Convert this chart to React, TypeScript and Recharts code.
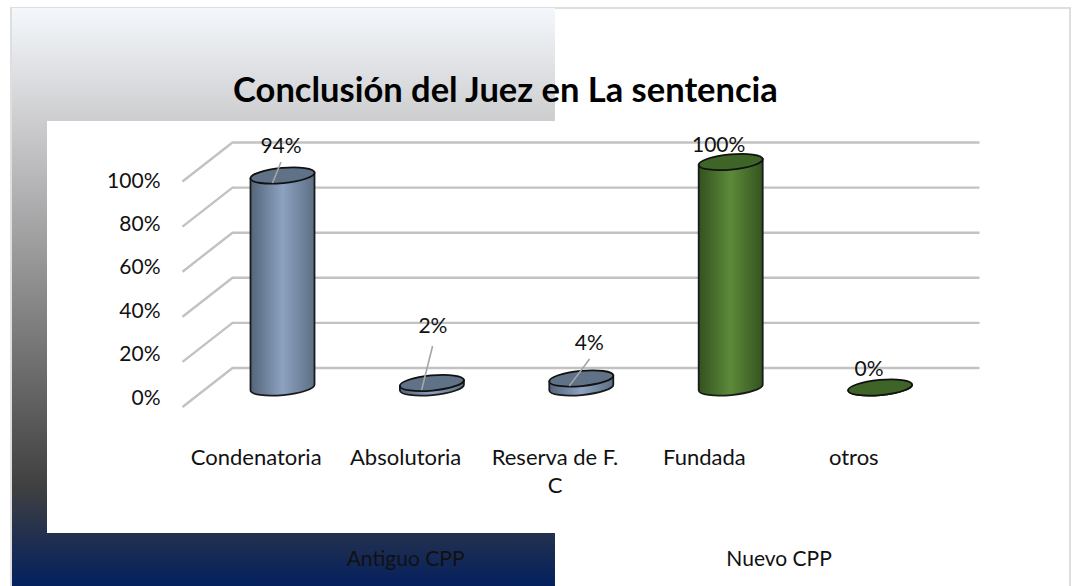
import { BarChart, Bar, XAxis, YAxis, CartesianGrid, LabelList } from "recharts";

const categories = ["Condenatoria", "Absolutoria", "Reserva de F.\nC", "Fundada", "otros"];
const values = [94, 2, 4, 100, 0];
const valueLabels = ["94%", "2%", "4%", "100%", "0%"];
const categoryGroups = [0, 0, 0, 1, 1];

// group centres are in category index units
const groupNames = ["Antiguo CPP", "Nuevo CPP"];
const groupCenters = [1, 3.5];
const yTicks = [0, 20, 40, 60, 80, 100];

const data = categories.map((name, i) => ({
  name,
  value: values[i],
  group: categoryGroups[i],
}));

const FONT = "Lato, sans-serif";
const VALUE_SIZE = 21;
const CATEGORY_SIZE = 22;
const DEPTH_X = 25;
const DEPTH_Y = 19.5;
const LABEL_SHIFT = -26;
const HALF_BAND = 74.7;
const TILT = 3;
const ELLIPSE_RY = 7.6;

const PALETTE = [
  { body: "url(#oldBody)", top: "#5f7288" },
  { body: "url(#newBody)", top: "#3f6427" },
];

// hand-placed data labels, relative to the centre of each bar top
const LABEL_SPOTS = [
  { dx: -1.5, dy: -31.5, leader: [-1.5, -13.5, -10, 7.5] },
  { dx: 1, dy: -58, leader: [0.7, -37, -10.3, 7] },
  { dx: 8, dy: -37, leader: [8.3, -19.5, -12, 7.5] },
  { dx: -12, dy: -18.5, leader: null },
  { dx: -11, dy: -20.5, leader: null },
];

function Cylinder(props: any) {
  const { x, y, width, height, payload } = props;
  const colors = PALETTE[payload.group];
  const cx = x + width / 2;
  const base = y + height;
  const rx = Math.hypot(width / 2, TILT);
  const angle = (-Math.atan2(TILT, width / 2) * 180) / Math.PI;
  const arc = `A${rx} ${ELLIPSE_RY} ${angle} 0 0`;
  return (
    <g>
      <path
        d={`M${x} ${y + TILT}L${x} ${base + TILT}${arc} ${x + width} ${base - TILT}L${x + width} ${y - TILT}Z`}
        fill={colors.body}
        stroke="#1a1a1a"
        strokeWidth={1.8}
      />
      <ellipse
        cx={cx}
        cy={y}
        rx={rx}
        ry={ELLIPSE_RY}
        fill={colors.top}
        stroke="#111"
        strokeWidth={1.8}
        transform={`rotate(${angle} ${cx} ${y})`}
      />
    </g>
  );
}

function GridLine(props: any) {
  const { x1, x2, y1 } = props;
  return (
    <path
      d={`M${x1 - DEPTH_X} ${y1 + DEPTH_Y}L${x1 + DEPTH_X} ${y1 - DEPTH_Y}L${x2 + DEPTH_X} ${y1 - DEPTH_Y}`}
      fill="none"
      stroke="#c2c2c2"
      strokeWidth={2.4}
    />
  );
}

function ValueLabel(props: any) {
  const { x, y, width, index } = props;
  const spot = LABEL_SPOTS[index];
  const cx = x + width / 2;
  return (
    <g>
      {spot.leader && (
        <line
          x1={cx + spot.leader[0]}
          y1={y + spot.leader[1]}
          x2={cx + spot.leader[2]}
          y2={y + spot.leader[3]}
          stroke="#a6a6a6"
          strokeWidth={1.6}
        />
      )}
      <text
        x={cx + spot.dx}
        y={y + spot.dy}
        textAnchor="middle"
        dominantBaseline="central"
        fontFamily={FONT}
        fontSize={VALUE_SIZE}
        fill="#111"
      >
        {valueLabels[index]}
      </text>
    </g>
  );
}

function PercentTick(props: any) {
  const { x, y, payload } = props;
  return (
    <text
      x={x - 39}
      y={y + 8.5 + payload.value * 0.085}
      textAnchor="end"
      dominantBaseline="central"
      fontFamily={FONT}
      fontSize={VALUE_SIZE}
      fill="#111"
    >
      {payload.value}%
    </text>
  );
}

function CategoryTick(props: any) {
  const { x, y, payload } = props;
  const lines = String(payload.value).split("\n");
  return (
    <text x={x + LABEL_SHIFT} y={y + 69.6} textAnchor="middle" fontFamily={FONT} fontSize={CATEGORY_SIZE} fill="#111">
      {lines.map((line, i) => (
        <tspan key={line} x={x + LABEL_SHIFT} dy={i === 0 ? 0 : 28}>
          {line}
        </tspan>
      ))}
    </text>
  );
}

function GroupTick(props: any) {
  const { x, y, index } = props;
  return (
    <text
      x={x + LABEL_SHIFT}
      y={y + 62}
      textAnchor="middle"
      dominantBaseline="central"
      fontFamily={FONT}
      fontSize={VALUE_SIZE}
      fill="#111"
    >
      {groupNames[index]}
    </text>
  );
}

export default function App() {
  return (
    <div style={{ position: "absolute", left: 0, top: 0, width: 1074, height: 586, overflow: "hidden", background: "#fff" }}>
      <div style={{ position: "absolute", left: 10, top: 7, width: 1057, height: 600, border: "2px solid #dedede" }} />
      <div
        style={{
          position: "absolute",
          left: 12,
          top: 8,
          width: 543,
          height: 578,
          background: "linear-gradient(180deg, #f4f8fc 0%, #cdcdcf 19.6%, #404040 82.7%, #04205e 100%)",
        }}
      />
      <div style={{ position: "absolute", left: 47, top: 121, width: 508, height: 412, background: "#fff" }} />
      <BarChart
        width={1074}
        height={586}
        data={data}
        margin={{ top: 162, right: 119.5, left: 147.5, bottom: 0 }}
        style={{ position: "absolute", left: 0, top: 0 }}
      >
        <defs>
          <linearGradient id="oldBody" x1="0" y1="0" x2="1" y2="0">
            <stop offset="0%" stopColor="#54657a" />
            <stop offset="50%" stopColor="#8ca2c0" />
            <stop offset="100%" stopColor="#5d6f85" />
          </linearGradient>
          <linearGradient id="newBody" x1="0" y1="0" x2="1" y2="0">
            <stop offset="0%" stopColor="#33521e" />
            <stop offset="50%" stopColor="#5c8a3a" />
            <stop offset="100%" stopColor="#34541f" />
          </linearGradient>
        </defs>
        <CartesianGrid vertical={false} horizontal={(p: any) => <GridLine key={p.y1} {...p} />} />
        <XAxis
          xAxisId="cat"
          dataKey="name"
          height={100}
          interval={0}
          axisLine={false}
          tickLine={false}
          tick={<CategoryTick />}
        />
        <XAxis
          xAxisId="group"
          type="number"
          domain={[0, 4]}
          padding={{ left: HALF_BAND, right: HALF_BAND }}
          ticks={groupCenters}
          height={98.5}
          axisLine={false}
          tickLine={false}
          tick={<GroupTick />}
        />
        <YAxis
          width={60}
          domain={[0, 100]}
          ticks={yTicks}
          axisLine={false}
          tickLine={false}
          tick={<PercentTick />}
        />
        <Bar xAxisId="cat" dataKey="value" barSize={64} shape={<Cylinder />} isAnimationActive={false}>
          <LabelList dataKey="value" content={<ValueLabel />} />
        </Bar>
        <text
          x={505.5}
          y={88}
          textAnchor="middle"
          dominantBaseline="central"
          fontFamily={FONT}
          fontWeight={700}
          fontSize={34.5}
          fill="#000"
        >
          Conclusión del Juez en La sentencia
        </text>
      </BarChart>
    </div>
  );
}
